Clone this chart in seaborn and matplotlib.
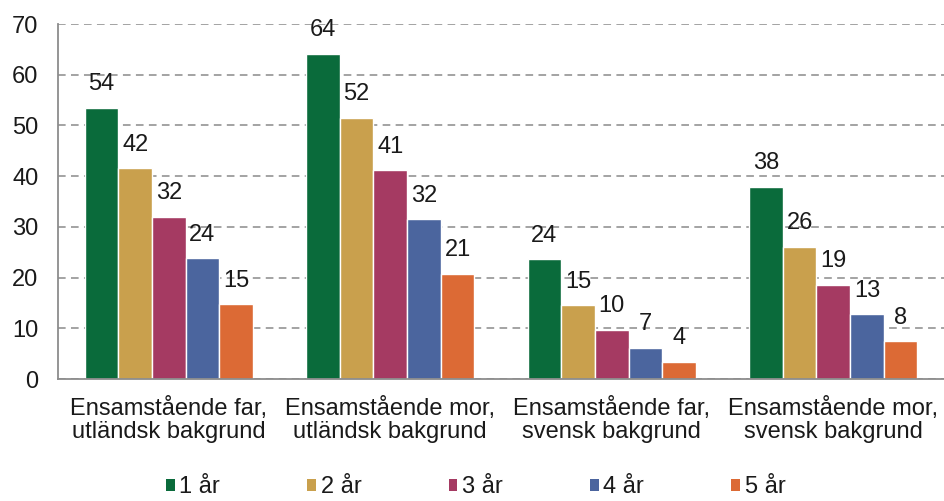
import pandas as pd
import matplotlib.pyplot as plt
import seaborn as sns
from matplotlib.patches import Patch

# data
grupper = ["Ensamstående far,\nutländsk bakgrund", "Ensamstående mor,\nutländsk bakgrund",
           "Ensamstående far,\nsvensk bakgrund", "Ensamstående mor,\nsvensk bakgrund"]
ar = ["1 år", "2 år", "3 år", "4 år", "5 år"]
varden = {
    "1 år": [53.5, 64.1, 23.6, 37.9],
    "2 år": [41.6, 51.5, 14.5, 26.1],
    "3 år": [32.0, 41.2, 9.7, 18.6],
    "4 år": [23.8, 31.5, 6.2, 12.8],
    "5 år": [14.7, 20.8, 3.4, 7.4],
}
etiketter = {
    "1 år": ["54", "64", "24", "38"],
    "2 år": ["42", "52", "15", "26"],
    "3 år": ["32", "41", "10", "19"],
    "4 år": ["24", "32", "7", "13"],
    "5 år": ["15", "21", "4", "8"],
}
farger = ["#0a6b3b", "#c9a04d", "#a53a62", "#4b659e", "#dc6a35"]

rows = []
for a in ar:
    for g, v in zip(grupper, varden[a]):
        rows.append({"grupp": g, "ar": a, "andel": v})
data = pd.DataFrame(rows)

sns.set_style("white")
plt.rcParams["font.family"] = ["Liberation Sans", "DejaVu Sans"]
plt.rcParams["text.color"] = "#1a1a1a"
fs = 17

fig = plt.figure(figsize=(9.44, 5.01), dpi=100)
ax = fig.add_axes([0.0615, 0.2435, 0.9385, 0.7085])

sns.barplot(data=data, x="grupp", y="andel", hue="ar", hue_order=ar, order=grupper,
            palette=farger, width=0.76, gap=0, edgecolor="white", linewidth=1,
            saturation=1, legend=False, ax=ax)

for cont, a in zip(ax.containers, ar):
    ax.bar_label(cont, labels=etiketter[a], padding=9, fontsize=fs, color="#1a1a1a")

ax.set_ylim(0, 70)
ax.set_yticks(range(0, 71, 10))
ax.set_xlim(-0.5, 3.5)
ax.set_xlabel("")
ax.set_ylabel("")
ax.yaxis.grid(True, linestyle=(0, (5, 3.5)), color="#8a8a8a", linewidth=1.1)
ax.set_axisbelow(True)
sns.despine(ax=ax)
for s in ["left", "bottom"]:
    ax.spines[s].set_color("#8c8c8c")
    ax.spines[s].set_linewidth(1.3)
ax.tick_params(axis="y", length=5, color="#8c8c8c", width=1.1, labelsize=fs, pad=9,
               labelcolor="#1a1a1a")
ax.tick_params(axis="x", length=0, labelsize=fs, pad=13, labelcolor="#1a1a1a")
for t in ax.get_xticklabels():
    t.set_linespacing(1.05)

handles = [Patch(facecolor=c, edgecolor="none") for c in farger]
fig.legend(handles, ar, loc="center", bbox_to_anchor=(0.504, 0.027), ncol=5, frameon=False,
           fontsize=fs, handlelength=0.36, handleheight=0.36, handletextpad=0.2,
           columnspacing=3.7)

fig.savefig("out.png", dpi=100)
